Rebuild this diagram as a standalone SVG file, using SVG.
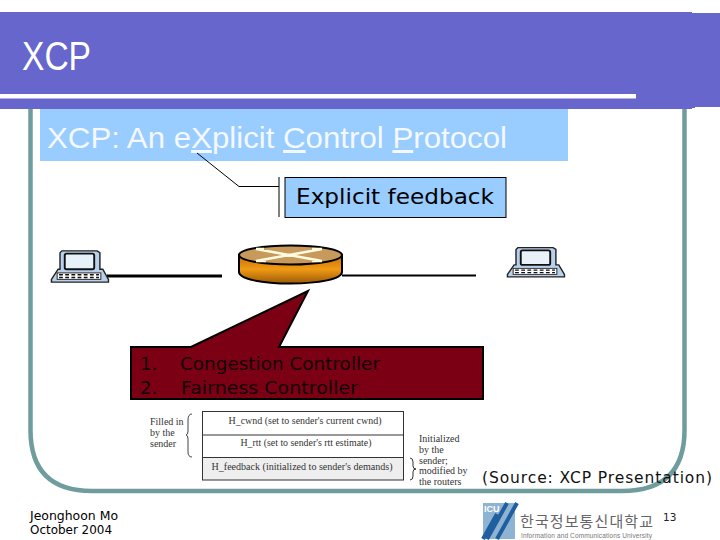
<svg xmlns="http://www.w3.org/2000/svg" width="720" height="540" viewBox="0 0 720 540">
<style>
.s{font-family:"DejaVu Sans","Noto Sans",sans-serif}
.o{font-family:"Liberation Sans","Open Sans",sans-serif}
.t{font-family:"Liberation Serif",serif;font-size:10px;fill:#333}
.u{font-family:"Liberation Serif",serif;font-size:9.500px;fill:#333}
.c{font-family:"DejaVu Sans",sans-serif;font-size:18px;fill:#120006}
.f{font-family:"DejaVu Sans",sans-serif;font-size:12px;fill:#000}
</style>
<defs>
<linearGradient id="g" x1="0" y1="0" x2="0" y2="1"><stop offset="0" stop-color="#c66f08"/><stop offset="0.5" stop-color="#f09a14"/><stop offset="1" stop-color="#9c5a08"/></linearGradient>
<g id="pc">
<path d="M12 2h37l3 2v18l3 0 6 11v3H1v-3l7-11h2V4z" fill="#b8d0ea" stroke="#222" stroke-width="1.5"/>
<rect x="15" y="5" width="31" height="17" rx="2" fill="#e8f0f8" stroke="#111" stroke-width="2"/>
<rect x="7" y="26" width="46" height="7" fill="#fff" stroke="#222"/>
<path d="M9 28h42M9 31h42" stroke="#111" stroke-width="1.6" stroke-dasharray="4 2.500"/>
</g>
</defs>
<rect width="720" height="540" fill="#fff"/>
<g id="frame"><path d="M30.500 108V430Q30.500 491 92 491H622Q684.500 491 684.500 430V108" fill="none" stroke="#6f9c9c" stroke-width="4.500"/></g>
<g id="banner">
<rect x="0" y="12" width="692" height="97" fill="#6666cc"/>
<rect x="692" y="13" width="28" height="94" fill="#6666cc"/>
<rect x="635" y="99" width="60" height="9" fill="#6666cc"/>
<rect x="0" y="94" width="636" height="4.500" fill="#fff"/>
<text x="22" y="70" class="o" font-size="40" fill="#fff" textLength="69" lengthAdjust="spacingAndGlyphs">XCP</text>
</g>
<g id="subtitle">
<rect x="40" y="109" width="528" height="52" fill="#99ccff"/>
<text x="47" y="148" class="o" font-size="30" fill="#f4f8ff" textLength="460" lengthAdjust="spacingAndGlyphs">XCP: An e<tspan text-decoration="underline">X</tspan>plicit <tspan text-decoration="underline">C</tspan>ontrol <tspan text-decoration="underline">P</tspan>rotocol</text>
</g>
<g id="connectors">
<path d="M197 153L239 186.500H279M279 177V217" fill="none" stroke="#000" stroke-width="1"/>
<path d="M107 276H222" stroke="#000" stroke-width="3"/>
<path d="M342 275.500H476" stroke="#000" stroke-width="2"/>
</g>
<g id="feedback">
<rect x="285" y="177.500" width="221" height="40" fill="#99ccff" stroke="#000"/>
<text x="296" y="204" class="s" font-size="22" fill="#000" textLength="198" lengthAdjust="spacingAndGlyphs">Explicit feedback</text>
</g>
<g id="host-left"><use href="#pc" transform="translate(50.500 249) scale(0.95 0.92)"/></g>
<g id="host-right"><use href="#pc" transform="translate(506.500 246) scale(0.95 0.86)"/></g>
<g id="router">
<path d="M239 255V272C239 279 262 283.500 290.500 283.500S342 279 342 272V255Z" fill="url(#g)" stroke="#000" stroke-width="2"/>
<ellipse cx="290.500" cy="255" rx="51.500" ry="9.500" fill="#c79a5c" stroke="#000" stroke-width="2"/>
<path d="M256 249L322 261M256 261L322 249M256 249H264M256 261H266M322 249H312M322 261H312" stroke="#fffbe0" stroke-width="2.500" fill="none"/>
</g>
<g id="callout">
<path d="M131 347H191L308 291L279 347H483V399H131Z" fill="#7b0014" stroke="#000" stroke-width="2"/>
<text x="140" y="370" class="c">1.</text>
<text x="140" y="394" class="c">2.</text>
<text x="180" y="370" class="c" textLength="200" lengthAdjust="spacingAndGlyphs">Congestion Controller</text>
<text x="181" y="394" class="c" textLength="177" lengthAdjust="spacingAndGlyphs">Fairness Controller</text>
</g>
<g id="header-table">
<rect x="202.500" y="458" width="201" height="22" fill="#eeeeee"/>
<rect x="202.500" y="411.500" width="201" height="68.500" fill="none" stroke="#333"/>
<path d="M202.500 435H403.500M202.500 457.500H403.500" stroke="#333"/>
<text x="305" y="424" class="u" text-anchor="middle" textLength="153" lengthAdjust="spacingAndGlyphs">H_cwnd (set to sender's current cwnd)</text>
<text x="306" y="446" class="u" text-anchor="middle" textLength="131" lengthAdjust="spacingAndGlyphs">H_rtt (set to sender's rtt estimate)</text>
<text x="302" y="470" class="u" text-anchor="middle" textLength="181" lengthAdjust="spacingAndGlyphs">H_feedback  (initialized to sender's demands)</text>
<text x="150" y="425" class="t">Filled in</text>
<text x="150" y="436" class="t">by the</text>
<text x="150" y="447" class="t">sender</text>
<path d="M192 414Q188 414 188 420V431Q188 435 186 435Q188 435 188 439V452Q188 457 192 457" fill="none" stroke="#444"/>
<path d="M410 458Q413 458 413 462V466Q413 469 416 469Q413 469 413 472V476Q413 480 410 480" fill="none" stroke="#333"/>
<text x="419" y="442" class="t">Initialized</text>
<text x="419" y="453" class="t">by the</text>
<text x="419" y="464" class="t">sender;</text>
<text x="419" y="474" class="t">modified by</text>
<text x="419" y="485" class="t">the routers</text>
</g>
<g id="source"><text x="482" y="483" class="s" font-size="15.500" fill="#111" textLength="230" lengthAdjust="spacing">(Source: XCP Presentation)</text></g>
<g id="footer">
<text x="30" y="520" class="f" textLength="88" lengthAdjust="spacingAndGlyphs">Jeonghoon Mo</text>
<text x="30" y="534" class="f" textLength="82" lengthAdjust="spacingAndGlyphs">October 2004</text>
<text x="663" y="521" class="s" font-size="10.500" fill="#222">13</text>
</g>
<g id="logo">
<rect x="483" y="503" width="32" height="36" fill="#8fb3d3"/>
<path d="M517 503L497 539M507 503L487 539M497 514L483 539" stroke="#1f5f9f" stroke-width="4" fill="none"/>
<text x="484" y="512" font-family="Liberation Sans,sans-serif" font-size="9" font-weight="bold" fill="#fff">ICU</text>
<text x="520" y="527" font-family="'Noto Sans CJK KR',sans-serif" font-size="15" fill="#666" textLength="133" lengthAdjust="spacing">한국정보통신대학교</text>
<text x="521" y="538" font-family="Liberation Sans,sans-serif" font-size="6.500" fill="#777" textLength="131">Information and Communications University</text>
</g>
</svg>
